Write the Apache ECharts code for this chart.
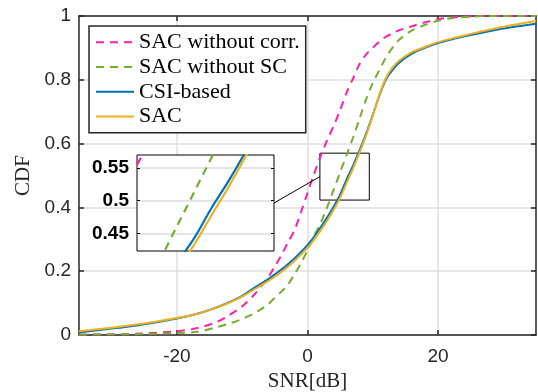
<!DOCTYPE html>
<html><head><meta charset="utf-8">
<script src="https://cdn.jsdelivr.net/npm/echarts@6.0.0/dist/echarts.min.js"></script>
<style>html,body{margin:0;padding:0;background:#fff}#c{width:538px;height:392px}</style>
</head><body><div id="c"></div>
<script>
const snr = [-35,-30,-25,-20,-17,-14,-12,-10,-8,-6,-5,-4,-3,-2,-1,0,1,2,3,4,5,6,7,8,9,10,11,12,13,14,16,18,20,22,25,28,31,35];
const cdfNoCorr = [0.001,0.002,0.005,0.012,0.021,0.040,0.062,0.090,0.130,0.182,0.215,0.250,0.290,0.328,0.385,0.445,0.505,0.560,0.610,0.655,0.705,0.760,0.805,0.850,0.880,0.900,0.920,0.935,0.945,0.955,0.968,0.980,0.990,0.995,0.999,1.000,1.000,1.000];
const cdfNoSC = [0.001,0.002,0.003,0.006,0.010,0.024,0.036,0.050,0.070,0.097,0.117,0.136,0.158,0.190,0.225,0.265,0.310,0.350,0.400,0.455,0.510,0.565,0.620,0.680,0.740,0.790,0.830,0.870,0.900,0.925,0.955,0.972,0.985,0.993,0.998,1.000,1.000,1.000];
const cdfCSI = [0.008,0.020,0.034,0.052,0.066,0.086,0.103,0.123,0.150,0.175,0.190,0.205,0.222,0.240,0.260,0.282,0.308,0.337,0.368,0.402,0.440,0.488,0.532,0.580,0.632,0.690,0.750,0.800,0.830,0.853,0.882,0.900,0.915,0.926,0.940,0.953,0.964,0.976];
const cdfSAC = [0.012,0.023,0.036,0.053,0.066,0.085,0.101,0.120,0.145,0.169,0.183,0.198,0.214,0.232,0.252,0.273,0.298,0.327,0.358,0.392,0.430,0.477,0.523,0.573,0.627,0.688,0.752,0.805,0.838,0.860,0.887,0.903,0.918,0.929,0.944,0.958,0.970,0.984];
const seriesNames = ['SAC without corr.','SAC without SC','CSI-based','SAC'];
const xTicks = [-20,0,20];
const xRange = [-35,35];
const yRange = [0,1];
const yInterval = 0.2;
const insetX = [1.9,9.47];
const insetY = [0.423,0.57];
const insetYTicks = [0.45,0.5,0.55];

const allY = [cdfNoCorr, cdfNoSC, cdfCSI, cdfSAC];
const colors = ['#ff1fa8','#77ac30','#0072bd','#edb120'];
const dashed = [true,true,false,false];
const AX = '#262626', GRID = '#dfdfdf';
const sans = 'Liberation Sans, Arial, Helvetica, sans-serif';
const serif = 'Liberation Serif, Times New Roman, serif';

function pairs(ys){ return snr.map((x,i)=>[x, ys[i]]); }

const series = [];
allY.forEach((ys,i)=>{
  series.push({
    type:'line', name:seriesNames[i], data:pairs(ys), symbol:'none', showSymbol:false,
    smooth:0.3, clip:true, xAxisIndex:0, yAxisIndex:0, z:2,
    lineStyle:{color:colors[i], width:2, type: dashed[i] ? [8,6] : 'solid'},
    itemStyle:{color:colors[i]}
  });
});
series[3].markArea = {
  silent:true, label:{show:false},
  itemStyle:{color:'rgba(0,0,0,0)', borderColor:'#000', borderWidth:1},
  data:[[{coord:[insetX[0], insetY[0]]},{coord:[insetX[1], insetY[1]]}]]
};
allY.forEach((ys,i)=>{
  series.push({
    type:'line', name:seriesNames[i], data:pairs(ys), symbol:'none', showSymbol:false,
    smooth:0.3, clip:true, xAxisIndex:2, yAxisIndex:2, z:12,
    lineStyle:{color:colors[i], width:2.2, type: dashed[i] ? [8,6] : 'solid'},
    itemStyle:{color:colors[i]}
  });
});

const chart = echarts.init(document.getElementById('c'), null, {renderer:'canvas'});
chart.setOption({
  animation:false,
  backgroundColor:'#fff',
  grid:[
    {left:79, top:16, width:457, height:319, outerBoundsMode:'none', containLabel:false},
    {left:137, top:155, width:137, height:96, outerBoundsMode:'none', containLabel:false,
     show:true, backgroundColor:'#fff', borderColor:'#000', borderWidth:1, z:10}
  ],
  legend:{
    orient:'vertical', left:89, top:26, data:seriesNames, selectedMode:false,
    itemWidth:38, itemHeight:14, itemGap:0, padding:[4,6,4,6],
    itemStyle:{opacity:0},
    backgroundColor:'#fff', borderColor:AX, borderWidth:1.5,
    textStyle:{fontFamily:serif, fontSize:22, color:'#000', lineHeight:24.7}
  },
  xAxis:[
    {type:'value', gridIndex:0, min:xRange[0], max:xRange[1], position:'bottom',
     axisLine:{show:true, onZero:false, lineStyle:{color:AX, width:1.5}},
     axisTick:{show:true, inside:true, length:5, customValues:xTicks, lineStyle:{color:AX, width:1.5}},
     axisLabel:{customValues:xTicks, fontSize:19, color:AX, fontFamily:sans, margin:12},
     splitLine:{show:true, lineStyle:{color:GRID, width:1.5}},
     name:'SNR[dB]', nameLocation:'middle', nameGap:34,
     nameTextStyle:{fontFamily:serif, fontSize:21, color:AX}},
    {type:'value', gridIndex:0, min:xRange[0], max:xRange[1], position:'top',
     axisLine:{show:true, onZero:false, lineStyle:{color:AX, width:1.5}},
     axisTick:{show:true, inside:true, length:5, customValues:xTicks, lineStyle:{color:AX, width:1.5}},
     axisLabel:{show:false}, splitLine:{show:false}},
    {type:'value', gridIndex:1, min:insetX[0], max:insetX[1], z:11,
     axisLine:{show:false}, axisTick:{show:false}, axisLabel:{show:false}, splitLine:{show:false}}
  ],
  yAxis:[
    {type:'value', gridIndex:0, min:yRange[0], max:yRange[1], interval:yInterval, position:'left',
     axisLine:{show:true, onZero:false, lineStyle:{color:AX, width:1.5}},
     axisTick:{show:true, inside:true, length:5, lineStyle:{color:AX, width:1.5}},
     axisLabel:{fontSize:19, color:AX, fontFamily:sans, margin:8},
     splitLine:{show:true, lineStyle:{color:GRID, width:1.5}},
     name:'CDF', nameLocation:'middle', nameGap:41,
     nameTextStyle:{fontFamily:serif, fontSize:21, color:AX}},
    {type:'value', gridIndex:0, min:yRange[0], max:yRange[1], interval:yInterval, position:'right',
     axisLine:{show:true, onZero:false, lineStyle:{color:AX, width:1.5}},
     axisTick:{show:true, inside:true, length:5, lineStyle:{color:AX, width:1.5}},
     axisLabel:{show:false}, splitLine:{show:false}},
    {type:'value', gridIndex:1, min:insetY[0], max:insetY[1], position:'left', z:11,
     axisLine:{show:false},
     axisTick:{show:true, inside:true, length:3, customValues:insetYTicks, lineStyle:{color:'#000', width:1}},
     axisLabel:{customValues:insetYTicks, fontSize:19, fontWeight:'bold', color:'#000', fontFamily:sans, margin:8},
     splitLine:{show:true, lineStyle:{color:'#dcdcdc', width:1.5}}},
    {type:'value', gridIndex:1, min:insetY[0], max:insetY[1], position:'right', z:11,
     axisLine:{show:false},
     axisTick:{show:true, inside:true, length:3, customValues:insetYTicks, lineStyle:{color:'#000', width:1}},
     axisLabel:{show:false}, splitLine:{show:false}}
  ],
  series:series
});

const yMid = (insetY[0]+insetY[1])/2;
const pBox = chart.convertToPixel({xAxisIndex:0, yAxisIndex:0}, [insetX[0], yMid]);
const pIn = chart.convertToPixel({xAxisIndex:2, yAxisIndex:2}, [insetX[1], yMid]);
chart.setOption({graphic:[{type:'line', silent:true, z:20,
  shape:{x1:pIn[0], y1:pIn[1], x2:pBox[0], y2:pBox[1]},
  style:{stroke:'#000', lineWidth:1}}]});
</script></body></html>
